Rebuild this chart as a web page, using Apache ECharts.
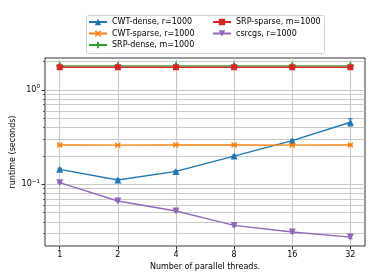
<!DOCTYPE html>
<html><head><meta charset="utf-8">
<script src="https://cdn.jsdelivr.net/npm/echarts@6/dist/echarts.min.js"></script>
<style>html,body{margin:0;padding:0;background:#fff}#c{width:374px;height:280px}</style>
</head><body><div id="c"></div>
<script>
// ---- data ----
const threads = [1, 2, 4, 8, 16, 32];
const cwtDense = [0.144, 0.111, 0.137, 0.199, 0.290, 0.455];
const cwtDenseErr = [0.004, 0.003, 0.003, 0.005, 0.008, 0.040];
const cwtSparse = [0.261, 0.260, 0.261, 0.261, 0.260, 0.261];
const cwtSparseErr = [0.003, 0.003, 0.003, 0.003, 0.003, 0.003];
const srpDense = [1.80, 1.80, 1.80, 1.80, 1.80, 1.80];
const srpDenseErr = [0.01, 0.01, 0.01, 0.01, 0.01, 0.01];
const srpSparse = [1.74, 1.74, 1.74, 1.74, 1.74, 1.74];
const srpSparseErr = [0.01, 0.01, 0.01, 0.01, 0.01, 0.01];
const csrcgs = [0.104, 0.0665, 0.0521, 0.0367, 0.0312, 0.0276];
const csrcgsErr = [0.001, 0.001, 0.001, 0.001, 0.001, 0.001];
const names = ['CWT-dense, r=1000', 'CWT-sparse, r=1000', 'SRP-dense, m=1000', 'SRP-sparse, m=1000', 'csrcgs, r=1000'];
const xTicks = [1, 2, 4, 8, 16, 32];
const yMajorTicks = [0.1, 1];
const yMinorTicks = [0.03, 0.04, 0.05, 0.06, 0.07, 0.08, 0.09, 0.2, 0.3, 0.4, 0.5, 0.6, 0.7, 0.8, 0.9, 2];
const xLabel = 'Number of parallel threads.';
const yLabel = 'runtime (seconds)';

const colors = ['#1f77b4', '#ff7f0e', '#2ca02c', '#d62728', '#9467bd'];
const FONT = 'DejaVu Sans';
const xPath = 'path://M0,1.6 L1.6,0 L5,3.4 L8.4,0 L10,1.6 L6.6,5 L10,8.4 L8.4,10 L5,6.6 L1.6,10 L0,8.4 L3.4,5 Z';
const plusPath = 'path://M3.6,0 H6.4 V3.6 H10 V6.4 H6.4 V10 H3.6 V6.4 H0 V3.6 H3.6 Z';
const symbols = [['triangle', 0, 7], [xPath, 0, 6], [plusPath, 0, 7], ['rect', 0, 6], ['triangle', 180, 7]];
const values = [cwtDense, cwtSparse, srpDense, srpSparse, csrcgs];
const errs = [cwtDenseErr, cwtSparseErr, srpDenseErr, srpSparseErr, csrcgsErr];

const series = [];
values.forEach((vals, i) => {
  series.push({
    type: 'custom', name: names[i] + ' err', xAxisIndex: 0, yAxisIndex: 0,
    data: threads.map((t, k) => [t, vals[k], errs[i][k]]),
    z: 2 + i * 2,
    silent: true,
    renderItem: (params, api) => {
      const x = api.value(0), y = api.value(1), e = api.value(2);
      const p1 = api.coord([x, y - e]), p2 = api.coord([x, y + e]);
      const c = colors[i], cw = 2.2;
      const st = { stroke: c, lineWidth: 1.2 };
      return { type: 'group', children: [
        { type: 'line', shape: { x1: p1[0], y1: p1[1], x2: p2[0], y2: p2[1] }, style: st },
        { type: 'line', shape: { x1: p1[0] - cw, y1: p1[1], x2: p1[0] + cw, y2: p1[1] }, style: st },
        { type: 'line', shape: { x1: p2[0] - cw, y1: p2[1], x2: p2[0] + cw, y2: p2[1] }, style: st }
      ]};
    }
  });
  series.push({
    type: 'line', name: names[i], xAxisIndex: 0, yAxisIndex: 0,
    data: threads.map((t, k) => [t, vals[k]]),
    z: 3 + i * 2,
    color: colors[i],
    symbol: symbols[i][0], symbolRotate: symbols[i][1], symbolSize: symbols[i][2],
    showAllSymbol: true,
    lineStyle: { width: 1.4, color: colors[i] },
    itemStyle: { color: colors[i], opacity: 1 },
    emphasis: { disabled: true },
    animation: false
  });
});

const chart = echarts.init(document.getElementById('c'), null, { renderer: 'canvas' });
const legendCommon = {
  orient: 'vertical', itemWidth: 18, itemHeight: 8, itemGap: 3.5,
  textStyle: { fontFamily: FONT, fontSize: 8, color: '#000', padding: [0, 0, 0, 0] },
  padding: 0, selectedMode: false
};
chart.setOption({
  backgroundColor: '#fff',
  animation: false,
  textStyle: { fontFamily: FONT },
  graphic: [{ type: 'rect', left: 86, top: 15, shape: { width: 238, height: 38, r: 2 },
    style: { fill: '#fff', stroke: '#d0d0d0', lineWidth: 1 }, z: 90 }],
  legend: [
    Object.assign({}, legendCommon, { left: 88, top: 18, data: names.slice(0, 3), z: 100 }),
    Object.assign({}, legendCommon, { left: 212, top: 18, data: names.slice(3), z: 100 })
  ],
  grid: { left: 45, right: 9, top: 58, bottom: 34, show: true, borderColor: '#000', borderWidth: 0.8, backgroundColor: 'transparent', containLabel: false, outerBoundsMode: 'none' },
  xAxis: [{
    type: 'log', logBase: 2, min: 0.839, max: 38.1,
    name: xLabel, nameLocation: 'middle', nameGap: 17, nameMoveOverlap: false,
    nameTextStyle: { fontFamily: FONT, fontSize: 8, color: '#000' },
    axisLine: { show: false },
    axisTick: { show: true, customValues: xTicks, length: 3.5, lineStyle: { color: '#000', width: 0.8 } },
    axisLabel: { customValues: xTicks, margin: 5, fontFamily: FONT, fontSize: 8, color: '#000', formatter: v => String(Math.round(v)) },
    splitLine: { show: true, lineStyle: { color: '#c8c8c8', width: 1.1 } },
    minorTick: { show: false }
  }],
  yAxis: [{
    type: 'log', logBase: 10, min: 0.0222, max: 2.18,
    name: yLabel, nameLocation: 'middle', nameGap: 28, nameMoveOverlap: false,
    nameTextStyle: { fontFamily: FONT, fontSize: 8, color: '#000' },
    axisLine: { show: false },
    axisTick: { show: true, customValues: yMajorTicks, length: 3.5, lineStyle: { color: '#000', width: 0.8 } },
    axisLabel: {
      customValues: yMajorTicks, margin: 5, fontFamily: FONT, fontSize: 8, color: '#000',
      formatter: v => { const e = Math.round(Math.log10(v)); return '10{s|' + (e < 0 ? '\u2212' + (-e) : e) + '}'; },
      rich: { s: { fontSize: 5.6, fontFamily: FONT, color: '#000', padding: [0, 0, 6, 0] } }
    },
    splitLine: { show: true, lineStyle: { color: '#c8c8c8', width: 1.1 } }
  }, {
    type: 'log', logBase: 10, min: 0.0222, max: 2.18, position: 'left',
    axisLine: { show: false },
    axisTick: { show: true, customValues: yMinorTicks, length: 2, lineStyle: { color: '#000', width: 0.6 } },
    axisLabel: { show: false },
    splitLine: { show: true, lineStyle: { color: '#bdbdbd', width: 0.8 } }
  }],
  series: series
});
</script></body></html>
